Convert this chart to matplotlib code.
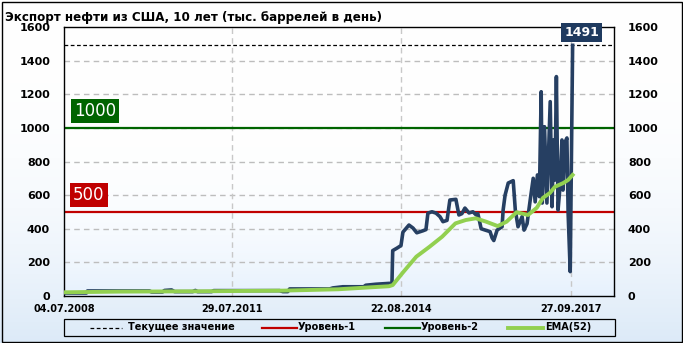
import matplotlib
matplotlib.use("Agg")
import matplotlib.pyplot as plt
from matplotlib.lines import Line2D
import numpy as np
import pandas as pd

# ---- data ----
export_dates = ["2008-07-04", "2008-11-30", "2008-12-07", "2010-01-23", "2010-02-06", "2010-04-20",
                "2010-05-03", "2010-06-19", "2010-07-09", "2010-11-06", "2010-11-24", "2010-12-09",
                "2011-03-12", "2011-03-26", "2012-06-06", "2012-06-28", "2012-07-30", "2012-08-12",
                "2013-05-05", "2013-05-26", "2013-08-01", "2013-12-17", "2013-12-31", "2014-03-08",
                "2014-06-03", "2014-06-23", "2014-06-28", "2014-07-27", "2014-08-22", "2014-09-04",
                "2014-10-14", "2014-11-10", "2014-12-05", "2015-01-15", "2015-02-04", "2015-02-17",
                "2015-03-16", "2015-04-12", "2015-05-08", "2015-05-28", "2015-06-24", "2015-07-13",
                "2015-08-22", "2015-09-11", "2015-10-01", "2015-10-21", "2015-11-17", "2015-12-13",
                "2016-01-04", "2016-01-15", "2016-02-06", "2016-03-04", "2016-04-05", "2016-04-19",
                "2016-04-30", "2016-05-22", "2016-06-24", "2016-07-01", "2016-07-14", "2016-08-04",
                "2016-09-06", "2016-09-20", "2016-10-08", "2016-11-04", "2016-11-17", "2016-12-07",
                "2016-12-28", "2017-01-17", "2017-01-30", "2017-02-14", "2017-02-27", "2017-03-11",
                "2017-03-18", "2017-04-02", "2017-04-18", "2017-05-10", "2017-05-22", "2017-06-02",
                "2017-06-11", "2017-06-20", "2017-07-01", "2017-07-14", "2017-07-27", "2017-08-03",
                "2017-08-18", "2017-08-29", "2017-09-06", "2017-09-20", "2017-10-06"]
export_values = [18, 18, 30, 30, 24, 24,
                 33, 36, 26, 26, 33, 26,
                 26, 32, 32, 26, 26, 42,
                 42, 48, 55, 55, 64, 70,
                 75, 75, 270, 285, 300, 380,
                 422, 404, 376, 388, 395, 493,
                 501, 493, 472, 442, 450, 571,
                 575, 482, 490, 523, 494, 501,
                 482, 490, 400, 392, 383, 345,
                 330, 392, 412, 511, 600, 672,
                 686, 511, 412, 472, 392, 430,
                 571, 700, 560, 720, 591, 1215,
                 553, 1007, 553, 1156, 531, 928,
                 690, 1305, 511, 650, 928, 630,
                 918, 940, 494, 145, 1491]

ema_dates = ["2008-07-04", "2009-07-01", "2011-01-01", "2012-07-01", "2013-07-01", "2014-01-01",
             "2014-06-03", "2014-06-28", "2014-09-04", "2014-12-02", "2015-02-28", "2015-05-23",
             "2015-08-19", "2015-10-27", "2016-01-01", "2016-03-10", "2016-05-26", "2016-07-24",
             "2016-09-28", "2016-12-14", "2017-02-10", "2017-03-22", "2017-05-08", "2017-06-11",
             "2017-08-05", "2017-09-06", "2017-10-06"]
ema_values = [22, 26, 28, 32, 40, 50,
              58, 65, 140, 234, 293, 353,
              432, 452, 462, 442, 416, 442,
              498, 482, 525, 583, 613, 650,
              672, 690, 720]

level1 = 500
level2 = 1000
current_value = 1491
y_ticks = [0, 200, 400, 600, 800, 1000, 1200, 1400, 1600]
x_tick_dates = ["2008-07-04", "2011-07-29", "2014-08-22", "2017-09-27"]
x_tick_labels = ["04.07.2008", "29.07.2011", "22.08.2014", "27.09.2017"]
title = "Экспорт нефти из США, 10 лет (тыс. баррелей в день)"
legend_labels = ["Текущее значение", "Уровень-1", "Уровень-2", "EMA(52)"]

# ---- colours ----
NAVY = "#263f62"
RED = "#c00000"
DGREEN = "#006400"
LGREEN = "#92d050"

plt.rcParams['font.family'] = ['DejaVu Sans']

W, H = 683, 343
fig = plt.figure(figsize=(W / 100, H / 100), dpi=100)

# background gradient for the whole figure
bg = fig.add_axes([0, 0, 1, 1], zorder=-10)
g = np.linspace(0, 1, 256)[:, None] ** 2.5
top = np.array([1.0, 1.0, 1.0])
bot = np.array([0xdc, 0xea, 0xf8]) / 255
img = top + (bot - top) * g[..., None]
img = np.repeat(img, 2, axis=1)
bg.imshow(img, aspect='auto', extent=[0, 1, 0, 1], origin='upper')
bg.set_xlim(0, 1); bg.set_ylim(0, 1)
bg.axis('off')
bg.add_patch(plt.Rectangle((1.5 / W, 1.5 / H), 1 - 3 / W, 1 - 3 / H, fill=False,
                           edgecolor='black', linewidth=1.0))

x0, x1 = 64 / W, 614 / W
y0, y1 = 1 - 296 / H, 1 - 27 / H
ax = fig.add_axes([x0, y0, x1 - x0, y1 - y0])
ax.patch.set_alpha(0)

# plot-area gradient
g2 = np.linspace(0, 1, 256)[:, None] ** 4
pbot = np.array([0xe6, 0xf1, 0xfd]) / 255
img2 = top + (pbot - top) * g2[..., None]
img2 = np.repeat(img2, 2, axis=1)
ax.imshow(img2, aspect='auto', extent=[0, 1, 0, 1], origin='upper',
          transform=ax.transAxes, zorder=0)

ed = pd.to_datetime(export_dates)
md = pd.to_datetime(ema_dates)
xt = pd.to_datetime(x_tick_dates)

ax.set_ylim(0, 1600)
ax.set_xlim(pd.Timestamp("2008-07-04"), pd.Timestamp("2018-07-08"))

for yt in y_ticks[1:-1]:
    ax.axhline(yt, color='#bdbdbd', linewidth=1.0, linestyle=(0, (4, 3)), zorder=1)
for d in xt[1:]:
    ax.axvline(d, color='#c8c8c8', linewidth=1.0, linestyle=(0, (4, 3)), zorder=1)

ax.axhline(current_value, color='black', linewidth=0.9, linestyle=(0, (3, 2)), zorder=2)
ax.axhline(level1, color=RED, linewidth=1.6, zorder=2)
ax.axhline(level2, color=DGREEN, linewidth=1.6, zorder=2)

ax.plot(ed, export_values, color=NAVY, linewidth=2.6, zorder=3, solid_joinstyle='round')
ax.plot(md, ema_values, color=LGREEN, linewidth=2.8, zorder=4, solid_joinstyle='round')

ax.set_yticks(y_ticks)
ax.set_yticklabels([str(v) for v in y_ticks])
ax.set_xticks(xt)
ax.set_xticklabels(x_tick_labels)
ax.tick_params(axis='y', length=0, pad=10, labelsize=8, labelright=True, right=False)
ax.tick_params(axis='x', length=0, pad=6, labelsize=7)
for lab in ax.get_yticklabels() + ax.get_xticklabels():
    lab.set_fontweight('bold')
for t in ax.yaxis.get_major_ticks():
    t.label2.set_fontweight('bold')
    t.label2.set_fontsize(8)
for side in ['left', 'right', 'bottom']:
    ax.spines[side].set_color('black')
    ax.spines[side].set_linewidth(1.0)
ax.spines['top'].set_visible(False)
ax.plot([0, 1], [1, 1], transform=ax.transAxes, color='black', linewidth=1.0, clip_on=False, zorder=5)

# level label boxes
trans = ax.get_yaxis_transform()
ax.text(0.057, 1101, str(level2), transform=trans, ha='center', va='center', fontsize=12,
        color='white', zorder=6,
        bbox=dict(boxstyle='square,pad=0.18', facecolor=DGREEN, edgecolor='none'))
ax.text(0.045, 598, str(level1), transform=trans, ha='center', va='center', fontsize=12,
        color='white', zorder=6,
        bbox=dict(boxstyle='square,pad=0.18', facecolor=RED, edgecolor='none'))

# current value box
ax.annotate(str(current_value), xy=(ed[-1], current_value), xytext=(9, 13),
            textcoords='offset pixels', ha='center', va='center', fontsize=9,
            fontweight='bold', color='white', zorder=7, annotation_clip=False,
            bbox=dict(boxstyle='square,pad=0.25', facecolor='#1f3a5f', edgecolor='none'))

# title
fig.text(5 / W, 1 - 17 / H, title, ha='left', va='center', fontsize=8.6, fontweight='bold')

# legend (drawn manually)
ly0, ly1 = 1 - 336 / H, 1 - 319 / H
bg.add_patch(plt.Rectangle((64 / W, ly0), (615 - 64) / W, ly1 - ly0, fill=False,
                           edgecolor='black', linewidth=0.9, zorder=5))
lyc = (ly0 + ly1) / 2
entries = [
    dict(x=(90, 122), tx=128, color='black', lw=0.9, ls=(0, (3, 2))),
    dict(x=(262, 297), tx=298, color=RED, lw=1.6, ls='-'),
    dict(x=(385, 420), tx=421, color=DGREEN, lw=1.6, ls='-'),
    dict(x=(508, 543), tx=545, color=LGREEN, lw=2.8, ls='-'),
]
for e, lab in zip(entries, legend_labels):
    bg.add_line(Line2D([e['x'][0] / W, e['x'][1] / W], [lyc, lyc], color=e['color'],
                       linewidth=e['lw'], linestyle=e['ls'], zorder=6))
    bg.text(e['tx'] / W, lyc, lab, ha='left', va='center', fontsize=7, fontweight='bold', zorder=6)

fig.savefig("out.png", dpi=100)
